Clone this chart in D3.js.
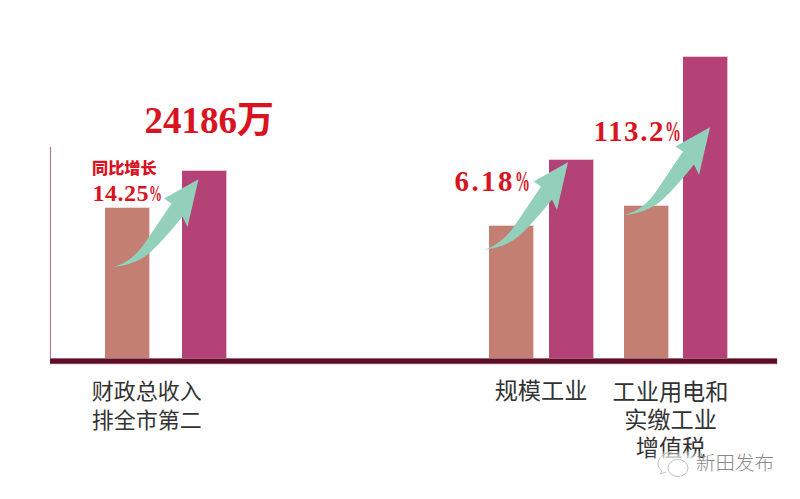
<!DOCTYPE html>
<html>
<head>
<meta charset="utf-8">
<script src="https://cdn.jsdelivr.net/npm/d3@7"></script>
<style>
html, body { margin: 0; padding: 0; background: #fff; }
svg { display: block; }
.label { font-family: "Noto Sans CJK SC", sans-serif; fill: #333; font-size: 22px; }
.red { font-family: "Liberation Serif", "Noto Sans CJK SC", serif; font-weight: bold; fill: #d7141f; }
</style>
</head>
<body>
<div id="chart"></div>
<script>
// bar heights, there is no axis so units are arbitrary
var barNames = ["a1", "a2", "b1", "b2", "c1", "c2"];
var barValues = [150, 187, 132, 198, 152, 301];
var barKinds = ["prev", "curr", "prev", "curr", "prev", "curr"];

var totalLabel = "24186万";
var yoyLabel = "同比增长";
var growthLabels = ["14.25", "6.18", "113.2"];
var catLines1 = ["财政总收入", "排全市第二"];
var catLine2 = "规模工业";
var catLines3 = ["工业用电和", "实缴工业", "增值税"];
var watermark = "新田发布";

var svgWidth = 800;
var svgHeight = 499;
var baseY = 358;

var svg = d3.select("#chart")
.append("svg")
.attr("width", svgWidth)
.attr("height", svgHeight);

var defs = svg.append("defs");
defs.append("filter")
.attr("id", "soft")
.append("feGaussianBlur")
.attr("stdDeviation", 3);

var xScale = d3.scaleOrdinal()
.domain(barNames)
.range([105, 182, 489, 549, 624, 683]);

var yScale = d3.scaleLinear()
.domain([0, 301])
.range([baseY, 57]);

var colorScale = d3.scaleOrdinal()
.domain(["prev", "curr"])
.range(["#c27f72", "#b54277"]);

var edgeScale = d3.scaleOrdinal()
.domain(["prev", "curr"])
.range(["#eccdd2", "#eab9cf"]);

// left axis line
svg.append("line")
.attr("x1", 50.5)
.attr("x2", 50.5)
.attr("y1", 147)
.attr("y2", baseY)
.attr("stroke", "#b07a96")
.attr("stroke-width", 1.2);

// pale edge first, bar on top of it
svg.append("g")
.selectAll("rect")
.data(barValues)
.enter()
.append("rect")
.attr("x", (d, i) => xScale(barNames[i]))
.attr("y", d => yScale(d) - 0.8)
.attr("width", 45)
.attr("height", d => baseY - yScale(d) + 0.8)
.attr("fill", (d, i) => edgeScale(barKinds[i]));

svg.append("g")
.selectAll("rect")
.data(barValues)
.enter()
.append("rect")
.attr("x", (d, i) => xScale(barNames[i]))
.attr("y", d => yScale(d))
.attr("width", 44)
.attr("height", d => baseY - yScale(d))
.attr("fill", (d, i) => colorScale(barKinds[i]));

// baseline band
svg.append("rect")
.attr("x", 50)
.attr("y", 358)
.attr("width", 727.5)
.attr("height", 6.5)
.attr("fill", "#e3c3cf");
svg.append("rect")
.attr("x", 50)
.attr("y", 358.5)
.attr("width", 727)
.attr("height", 5.2)
.attr("fill", "#5e0d26");

// same arrow three times, drawn from its tail
var arrowPath = "M0,0 C14,-3 25,-13 33,-25 L59,-63.5 L51.5,-68.5 L86,-87.7 L75,-40 L70,-50.5 C60,-38 49,-25 37,-14 C26,-5 13,-1 0,0 Z";

svg.append("g")
.selectAll("path")
.data([[112.5, 267], [482, 250], [624, 215]])
.enter()
.append("path")
.attr("transform", d => `translate(${d[0]},${d[1]})`)
.attr("d", arrowPath)
.attr("fill", "#93d0bc");

// red annotations
svg.append("text")
.attr("class", "red")
.attr("x", 144.5)
.attr("y", 133)
.attr("font-size", "37px")
.text(totalLabel);

svg.append("text")
.attr("class", "red")
.attr("x", 92)
.attr("y", 174)
.attr("font-size", "16.2px")
.style("font-family", "'Noto Sans CJK SC', sans-serif")
.style("font-weight", "900")
.text(yoyLabel);

// number is spaced out, the % sign squeezed narrow like the original
function growthText(label, x, y, size, numWidth, pctWidth) {
    var t = svg.append("text")
    .attr("class", "red")
    .attr("x", x)
    .attr("y", y)
    .attr("font-size", size + "px");
    t.append("tspan")
    .attr("textLength", numWidth)
    .attr("lengthAdjust", "spacing")
    .text(label);
    t.append("tspan")
    .attr("textLength", pctWidth)
    .attr("lengthAdjust", "spacingAndGlyphs")
    .text("%");
}

growthText(growthLabels[0], 92.5, 201, 24, 56, 13);
growthText(growthLabels[1], 454.5, 191, 29, 58, 15);
growthText(growthLabels[2], 593.5, 141, 29, 70, 16);

// category labels
svg.append("g")
.selectAll("text")
.data(catLines1)
.enter()
.append("text")
.attr("class", "label")
.attr("x", 146.7)
.attr("y", (d, i) => 399 + i * 29)
.attr("text-anchor", "middle")
.text(d => d);

svg.append("text")
.attr("class", "label")
.attr("x", 541)
.attr("y", 399)
.attr("text-anchor", "middle")
.style("font-size", "23.2px")
.text(catLine2);

// tight line spacing, so one text element with a tspan per line
svg.append("text")
.attr("class", "label")
.attr("text-anchor", "middle")
.style("font-size", "23.2px")
.selectAll("tspan")
.data(catLines3)
.enter()
.append("tspan")
.attr("x", 670.5)
.attr("y", (d, i) => 399.5 + i * 28)
.text(d => d);

// watermark: soft white patch, two chat bubbles and the account name
svg.append("rect")
.attr("x", 656)
.attr("y", 454)
.attr("width", 42)
.attr("height", 26)
.attr("fill", "#fff")
.attr("opacity", 0.85)
.attr("filter", "url(#soft)");

var wm = svg.append("g")
.attr("fill", "none")
.attr("stroke", "#c4c4c4")
.attr("stroke-width", 1);

wm.append("path")
.attr("d", "M672,452 C664,452 658,458 658,464 C658,467 660,469 662,471 L660,474 L666,472");
wm.append("ellipse")
.attr("cx", 678)
.attr("cy", 468)
.attr("rx", 10)
.attr("ry", 8.5)
.attr("fill", "#fff");

svg.append("text")
.attr("x", 696)
.attr("y", 470)
.attr("font-family", "'Noto Sans CJK SC', sans-serif")
.attr("font-weight", "300")
.attr("font-size", "19.5px")
.attr("fill", "#8a8a8a")
.text(watermark);
</script>
</body>
</html>
